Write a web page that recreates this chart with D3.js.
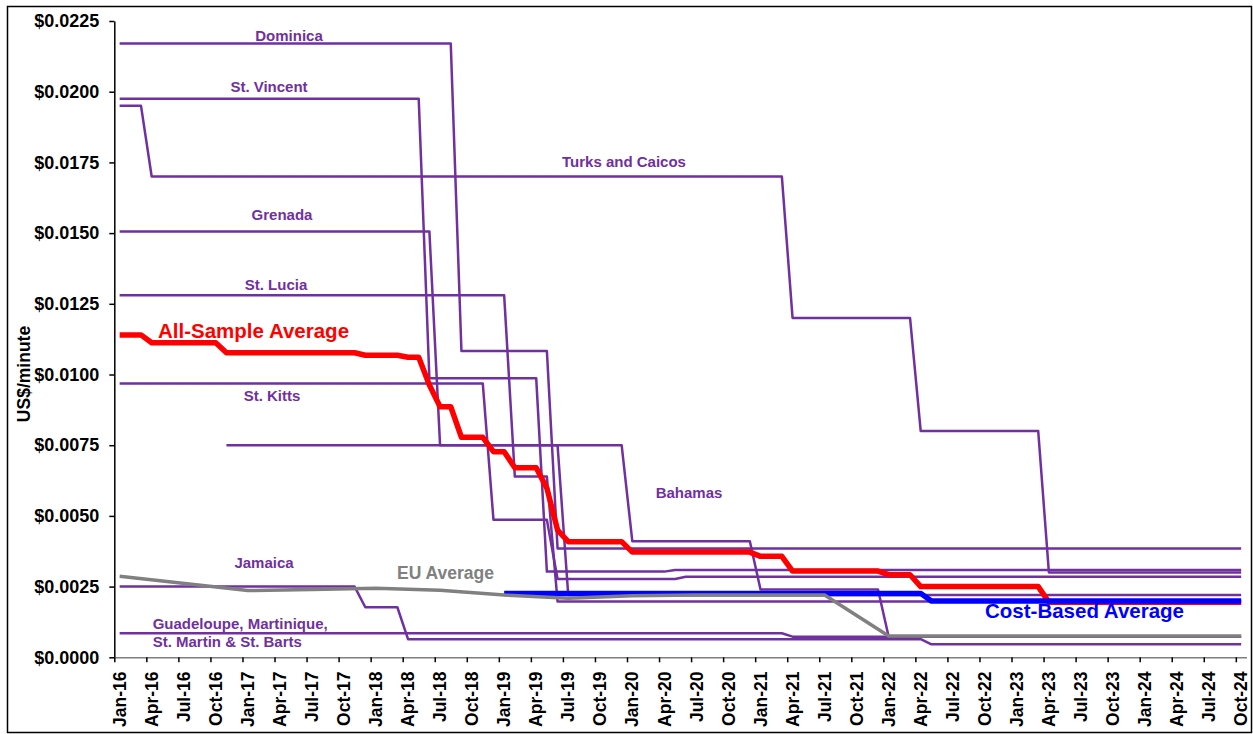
<!DOCTYPE html>
<html><head><meta charset="utf-8">
<script src="https://cdn.jsdelivr.net/npm/d3@7"></script>
<style>
body{margin:0;background:#fff}
svg{display:block}
text{font-family:"Liberation Sans",Arial,sans-serif;font-weight:bold}
</style>
</head><body>
<svg id="chart" width="1253" height="734"></svg>
<script>
// ---------- DATA ----------
const xTickLabels = ["Jan-16","Apr-16","Jul-16","Oct-16","Jan-17","Apr-17","Jul-17","Oct-17",
  "Jan-18","Apr-18","Jul-18","Oct-18","Jan-19","Apr-19","Jul-19","Oct-19",
  "Jan-20","Apr-20","Jul-20","Oct-20","Jan-21","Apr-21","Jul-21","Oct-21",
  "Jan-22","Apr-22","Jul-22","Oct-22","Jan-23","Apr-23","Jul-23","Oct-23",
  "Jan-24","Apr-24","Jul-24","Oct-24"];
const yTickValues = [0,0.0025,0.005,0.0075,0.01,0.0125,0.015,0.0175,0.02,0.0225];

// country series (month, US$/minute) at each step change
const dominica = [["Jan-16",0.0217],["Aug-18",0.0217],["Sep-18",0.01083],["May-19",0.01083],["Jun-19",0.00385],["Oct-24",0.00385]];
const stVincent = [["Jan-16",0.01975],["May-18",0.01975],["Jun-18",0.00987],["Apr-19",0.00987],["May-19",0.00303],["Apr-20",0.00303],["May-20",0.00309],["Oct-24",0.00309]];
const turksCaicos = [["Jan-16",0.0195],["Mar-16",0.0195],["Apr-16",0.0170],["Mar-21",0.0170],["Apr-21",0.0120],["Mar-22",0.0120],["Apr-22",0.0080],["Mar-23",0.0080],["Apr-23",0.0030],["Oct-24",0.0030]];
const grenada = [["Jan-16",0.01506],["Jun-18",0.01506],["Jul-18",0.0075],["Jun-19",0.0075],["Jul-19",0.0022],["Oct-24",0.0022]];
const stLucia = [["Jan-16",0.0128],["Jan-19",0.0128],["Feb-19",0.00639],["May-19",0.00639],["Jun-19",0.00197],["Oct-24",0.00197]];
const stKitts = [["Jan-16",0.00968],["Nov-18",0.00968],["Dec-18",0.00486],["May-19",0.00486],["Jun-19",0.00277],["May-20",0.00277],["Jun-20",0.00285],["Oct-24",0.00285]];
const bahamas = [["Nov-16",0.0075],["Dec-19",0.0075],["Jan-20",0.0041],["Dec-20",0.0041],["Jan-21",0.0024],["Dec-21",0.0024],["Jan-22",0.00073],["Oct-24",0.00073]];
const jamaica = [["Jan-16",0.0025],["Nov-17",0.0025],["Dec-17",0.00177],["Mar-18",0.00177],["Apr-18",0.00064],["Apr-22",0.00064],["May-22",0.00046],["Oct-24",0.00046]];
const guadeloupe = [["Jan-16",0.00085],["Mar-21",0.00085],["Apr-21",0.00073],["Oct-24",0.00073]];

const allSampleAverage = [["Jan-16",0.0114],["Mar-16",0.0114],["Apr-16",0.01112],["Oct-16",0.01112],["Nov-16",0.01077],["Nov-17",0.01077],
  ["Dec-17",0.01068],["Mar-18",0.01068],["Apr-18",0.01061],["May-18",0.01061],["Jun-18",0.00963],["Jul-18",0.00886],["Aug-18",0.00886],
  ["Sep-18",0.00778],["Nov-18",0.00778],["Dec-18",0.00727],["Jan-19",0.00727],["Feb-19",0.0067],["Apr-19",0.0067],["May-19",0.00598],
  ["Jun-19",0.0045],["Jul-19",0.00409],["Dec-19",0.00409],["Jan-20",0.00372],["Dec-20",0.00372],["Jan-21",0.00357],["Mar-21",0.00357],
  ["Apr-21",0.00305],["Dec-21",0.00305],["Jan-22",0.00292],["Mar-22",0.00292],["Apr-22",0.0025],["Mar-23",0.0025],["Apr-23",0.00195],["Oct-24",0.00195]];
const costBasedAverage = [["Jan-19",0.00226],["Apr-22",0.00226],["May-22",0.00199],["Oct-24",0.00199]];
const euAverage = [["Jan-16",0.00287],["Jan-17",0.00236],["Jul-17",0.0024],["Jan-18",0.00244],["Jul-18",0.00237],["Jan-19",0.0022],
  ["Jul-19",0.00209],["Jan-20",0.00218],["Jul-20",0.0022],["Jan-21",0.0022],["Jul-21",0.0022],["Jan-22",0.00075],["Oct-24",0.00075]];

const countrySeries = [dominica, stVincent, turksCaicos, grenada, stLucia, stKitts, bahamas, jamaica, guadeloupe];

// ---------- LAYOUT ----------
const svg = d3.select("#chart");
const parseMonth = d3.timeParse("%b-%y");
const monthIndex = s => { const d = parseMonth(s); return (d.getFullYear()-2016)*12 + d.getMonth(); };

const x = d3.scaleLinear().domain([0,106]).range([114.3,1246.5]);
const y = d3.scaleLinear().domain([0,0.0225]).range([657.3,21]);

// outer frame
svg.append("rect").attr("x",7.5).attr("y",6.5).attr("width",1244).attr("height",726)
  .attr("fill","none").attr("stroke","#000").attr("stroke-width",1.5);

// y axis
const yAxis = svg.append("g").attr("transform",`translate(${x(0)},0)`)
  .call(d3.axisLeft(y).tickValues(yTickValues).tickFormat(d=>"$"+d.toFixed(4)).tickSize(5).tickSizeOuter(0).tickPadding(10));
yAxis.select(".domain").attr("stroke","#000").attr("stroke-width",1.5);
yAxis.selectAll(".tick line").attr("stroke","#000").attr("stroke-width",1.5);
yAxis.selectAll("text").attr("font-size","18px").attr("fill","#000")
  .style("font-family","'Liberation Sans',Arial,sans-serif").style("font-weight","bold");

// x axis
const xTickIdx = xTickLabels.map(monthIndex);
const xAxis = svg.append("g").attr("transform",`translate(0,${y(0)})`)
  .call(d3.axisBottom(x).tickValues(xTickIdx).tickFormat("").tickSize(5).tickSizeOuter(0));
xAxis.select(".domain").attr("stroke","#7f7f7f").attr("stroke-width",1.5);
xAxis.selectAll(".tick line").attr("stroke","#000").attr("stroke-width",1.5);
svg.append("g").selectAll("text").data(xTickLabels).join("text")
  .attr("transform",d=>`translate(${x(monthIndex(d)+0.5)},671.5) rotate(-90)`)
  .attr("text-anchor","end").attr("dy","0.35em").attr("font-size","17.5px").attr("fill","#000")
  .text(d=>d);

// y title
svg.append("text").attr("transform","translate(30,374) rotate(-90)").attr("text-anchor","middle")
  .attr("font-size","17.5px").attr("fill","#000").text("US$/minute");

// lines
const line = d3.line().x(d=>x(monthIndex(d[0])+0.5)).y(d=>y(d[1]));
const gLines = svg.append("g").attr("fill","none").attr("stroke-linejoin","round").attr("stroke-linecap","butt");
gLines.selectAll("path.country").data(countrySeries).join("path").attr("class","country")
  .attr("d",line).attr("stroke","#7030A0").attr("stroke-width",2.5);
gLines.append("path").datum(allSampleAverage).attr("d",line).attr("stroke","#FF0000").attr("stroke-width",5.5);
gLines.append("path").datum(costBasedAverage).attr("d",line).attr("stroke","#0000FF").attr("stroke-width",5.5);
gLines.append("path").datum(euAverage).attr("d",line).attr("stroke","#808080").attr("stroke-width",3.5);

// labels
const purple = "#7030A0";
const ann = [
  {t:"Dominica", x:289, y:41, a:"middle", c:purple, s:15},
  {t:"St. Vincent", x:269, y:92, a:"middle", c:purple, s:15},
  {t:"Turks and Caicos", x:624, y:166.5, a:"middle", c:purple, s:15},
  {t:"Grenada", x:282, y:220, a:"middle", c:purple, s:15},
  {t:"St. Lucia", x:276, y:289.5, a:"middle", c:purple, s:15},
  {t:"St. Kitts", x:272, y:400.5, a:"middle", c:purple, s:15},
  {t:"Bahamas", x:689, y:497.5, a:"middle", c:purple, s:15},
  {t:"Jamaica", x:264, y:567.5, a:"middle", c:purple, s:15},
  {t:"Guadeloupe, Martinique,", x:152.7, y:628.5, a:"start", c:purple, s:15},
  {t:"St. Martin & St. Barts", x:152.7, y:646.5, a:"start", c:purple, s:15},
  {t:"All-Sample Average", x:158, y:337.5, a:"start", c:"#FF0000", s:20.5},
  {t:"EU Average", x:494, y:579, a:"end", c:"#808080", s:17.5},
  {t:"Cost-Based Average", x:985, y:617.5, a:"start", c:"#0000FF", s:20.5}
];
svg.append("g").selectAll("text").data(ann).join("text")
  .attr("x",d=>d.x).attr("y",d=>d.y).attr("text-anchor",d=>d.a)
  .attr("fill",d=>d.c).attr("font-size",d=>d.s+"px").text(d=>d.t);
</script>
</body></html>
